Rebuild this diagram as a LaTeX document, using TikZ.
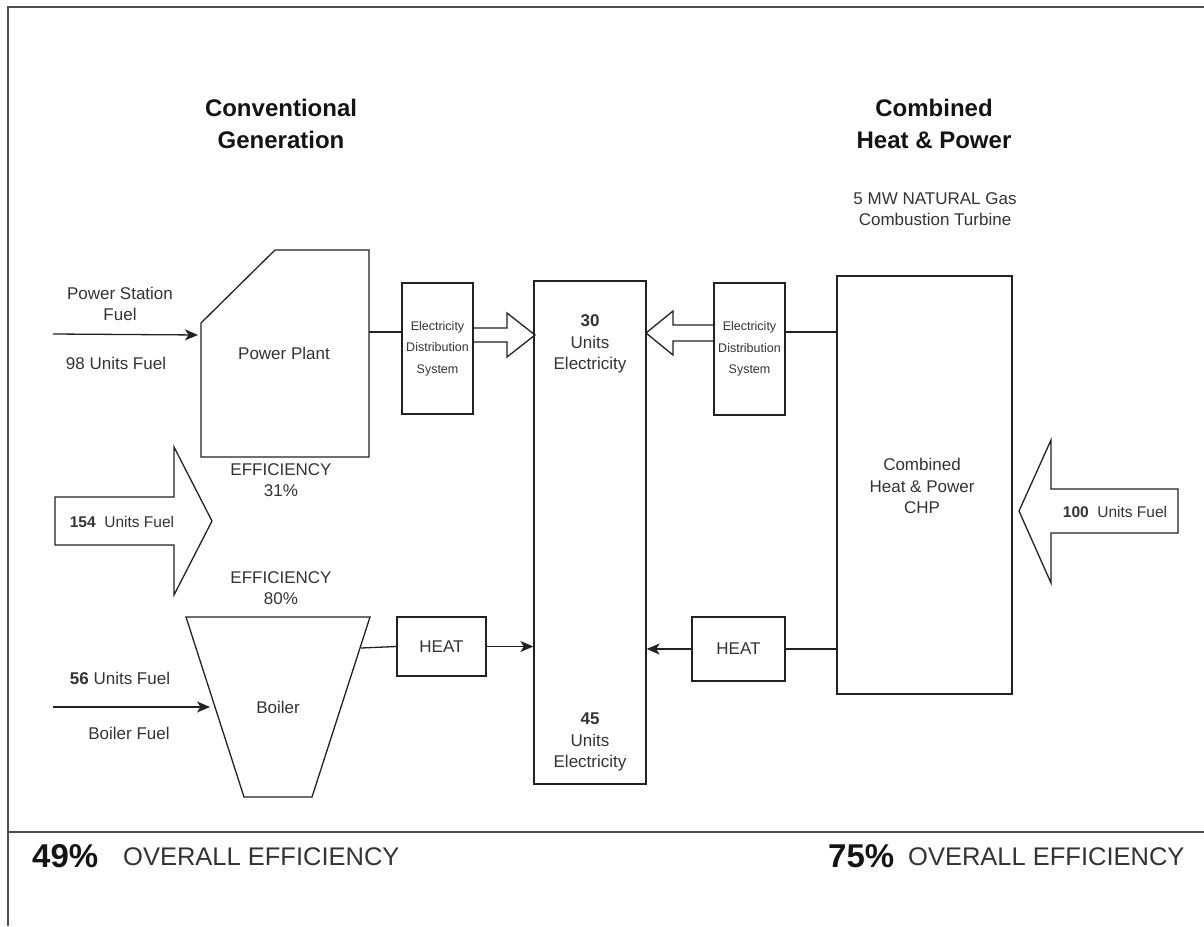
\documentclass[tikz,border=0pt]{standalone}
\usepackage{fontspec}
\setmainfont{Liberation Sans}
\usetikzlibrary{arrows.meta,calc}
\definecolor{ink}{HTML}{222222}
\definecolor{txt}{HTML}{333333}
\begin{document}
\begin{tikzpicture}[x=1pt,y=-1pt,
  frame/.style={draw=ink!80, line width=1.5pt},
  line/.style={draw=ink, line width=1.3pt, line join=miter},
  arr/.style={line, -{Stealth[length=13pt,width=11pt,inset=3.5pt]}},
  box/.style={draw=ink, line width=1.3pt, rectangle, inner sep=0pt},
  lbl/.style={text=txt, align=center, inner sep=0pt, font=\fontsize{17}{21.5}\selectfont},
  small/.style={text=txt, align=center, inner sep=0pt, font=\fontsize{12.5}{21.5}\selectfont},
  fuel/.style={text=txt, align=center, inner sep=0pt, font=\fontsize{15.5}{20}\selectfont},
  title/.style={text=black!92, align=center, inner sep=0pt, font=\bfseries\fontsize{24}{32}\selectfont},
  pct/.style={text=black!92, anchor=west, inner sep=0pt, font=\bfseries\fontsize{33}{36}\selectfont},
  overall/.style={text=txt, anchor=west, inner sep=0pt, font=\fontsize{25.5}{28}\selectfont}
]
\useasboundingbox (0,0) rectangle (1204,926);
% frame
\coordinate (fTL) at (8,7);
\coordinate (fTR) at (1204,7);
\coordinate (fBL) at (8,926);
\coordinate (sepL) at (8,832);
\coordinate (sepR) at (1204,832);
\draw[frame] (fTR) -- (fTL) -- (fBL);
\draw[frame] (sepL) -- (sepR);

% titles
\node[title] (tconv) at (281,124) {Conventional\\Generation};
\node[title] (tchp) at (934,124) {Combined\\Heat \& Power};
\node[lbl, font=\fontsize{17}{20.5}\selectfont] (tturb) at (935,209) {5 MW NATURAL Gas\\Combustion Turbine};

% power plant
\draw[line] (201,323) -- (275,250) -- (369,250) -- (369,457) -- (201,457) -- cycle;
\node[lbl] (pp) at (284,353) {Power Plant};
\coordinate (ppIn) at (201,335);
\coordinate (ppOut) at (369,332);
\coordinate (psfS) at (53,334);
\draw[arr, shorten >=3pt] (psfS) -- (ppIn);
\node[lbl] (psf) at (120,304) {Power Station\\Fuel};
\node[lbl] (f98) at (116,363) {98 Units Fuel};

% left EDS
\node[box, minimum width=71pt, minimum height=131pt] (edsL) at (437.5,348.5) {};
\node[small] (edsLt) at (edsL.center) {Electricity\\Distribution\\System};
\draw[line] (ppOut) -- (ppOut -| edsL.west);

% centre box
\node[box, minimum width=112pt, minimum height=503pt] (ctr) at (590,532.5) {};
\node[lbl] (e30) at (590,344) {\textbf{30}\\Units\\Electricity};
\node[lbl] (e45) at (590,742) {\textbf{45}\\Units\\Electricity};

% block arrow EDS-left -> centre
\draw[line] (473,328) -- (507,328) -- (507,313) -- (535,335) -- (507,357) -- (507,342) -- (473,342);

% right EDS
\node[box, minimum width=71pt, minimum height=132pt] (edsR) at (749.5,349) {};
\node[small] (edsRt) at (edsR.center) {Electricity\\Distribution\\System};
% block arrow EDS-right -> centre
\draw[line] (714,325) -- (673,325) -- (673,311) -- (646,333) -- (673,355) -- (673,341) -- (714,341);

% CHP
\node[box, minimum width=175pt, minimum height=418pt] (chp) at (924.5,485) {};
\node[lbl] (chpt) at (922,486) {Combined\\Heat \& Power\\CHP};
\coordinate (chpE) at (837,332);
\draw[line] (chpE) -- (chpE -| edsR.east);

% fuel block arrow right
\draw[line] (1178,489) -- (1051,489) -- (1051,440) -- (1019,511) -- (1051,583) -- (1051,533) -- (1178,533) -- cycle;
\node[fuel] (f100) at (1115,512) {\textbf{100}\ \ Units Fuel};

% fuel block arrow left
\draw[line] (55,497) -- (174,497) -- (174,447) -- (212,521) -- (174,595) -- (174,545) -- (55,545) -- cycle;
\node[fuel] (f154) at (122,522) {\textbf{154}\ \ Units Fuel};

% efficiencies
\node[lbl] (eff31) at (281,480) {EFFICIENCY\\31\%};
\node[lbl] (eff80) at (281,588) {EFFICIENCY\\80\%};

% boiler
\draw[line] (186,617) -- (370,617) -- (312,797) -- (244,797) -- cycle;
\node[lbl] (boil) at (278,707) {Boiler};
\coordinate (boilOut) at (361,648);
\coordinate (boilIn) at (215,707);
\coordinate (bfS) at (53,707);
\draw[arr, shorten >=5pt] (bfS) -- (boilIn);
\node[lbl] (f56) at (120,678) {\textbf{56} Units Fuel};
\node[lbl] (bf) at (129,733) {Boiler Fuel};

% heat boxes
\node[box, minimum width=89pt, minimum height=59pt] (heatL) at (441.5,646.5) {};
\node[lbl] (heatLt) at (heatL.center) {HEAT};
\draw[line] (boilOut) -- (heatL.west);
\draw[arr] (heatL.east) -- (heatL.east -| ctr.west);

\node[box, minimum width=93pt, minimum height=64pt] (heatR) at (738.5,649) {};
\node[lbl] (heatRt) at (heatR.center) {HEAT};
\draw[line] (heatR.east) -- (heatR.east -| chp.west);
\draw[arr] (heatR.west) -- (heatR.west -| ctr.east);

% overall efficiency
\node[pct] (p49) at (32,856) {49\%};
\node[overall] (o49) at (123,857) {OVERALL EFFICIENCY};
\node[pct] (p75) at (828,856) {75\%};
\node[overall] (o75) at (908,857) {OVERALL EFFICIENCY};
\end{tikzpicture}
\end{document}
